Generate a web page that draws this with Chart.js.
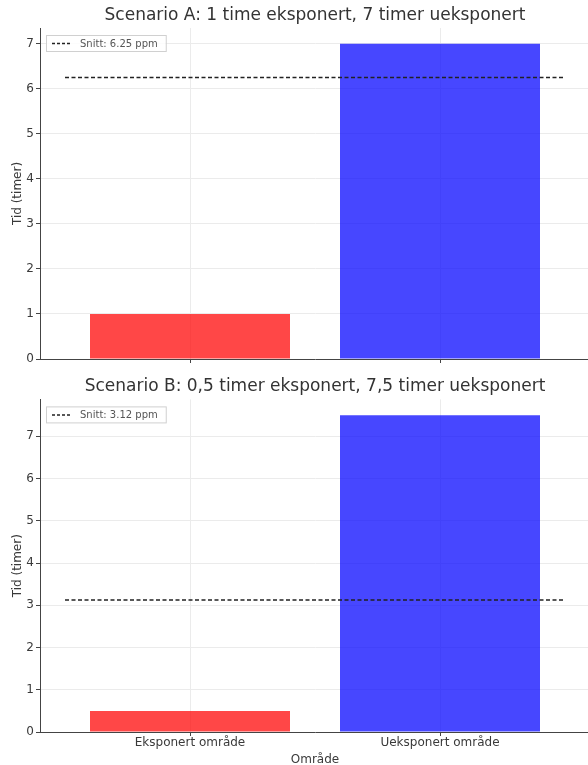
<!DOCTYPE html>
<html>
<head>
<meta charset="utf-8">
<script src="https://cdn.jsdelivr.net/npm/chart.js@4/dist/chart.umd.min.js"></script>
<style>
  body { margin: 0; overflow: hidden; background: #fff; }
  canvas { display: block; }
</style>
</head>
<body>
<canvas id="chartA" width="600" height="372"></canvas>
<canvas id="chartB" width="600" height="400"></canvas>
<script>
const areas = ["Eksponert område", "Ueksponert område"];
const hoursA = [1, 7];
const hoursB = [0.5, 7.5];
const averageA = 6.25;
const averageB = 3.125;
const titleA = "Scenario A: 1 time eksponert, 7 timer ueksponert";
const titleB = "Scenario B: 0,5 timer eksponert, 7,5 timer ueksponert";
const legendA = "Snitt: 6.25 ppm";
const legendB = "Snitt: 3.12 ppm";
const yTicks = [0, 1, 2, 3, 4, 5, 6, 7];
const barColors = ["rgba(255,0,0,0.72)", "rgba(0,0,255,0.72)"];

const FONT = "'DejaVu Sans', sans-serif";
const SPINE = "#444";
const GRID = "#ebebeb";
const TEXT = "#3a3a3a";

// legend box drawn inside the plot, top-left like matplotlib
const boxLegend = {
  id: "boxLegend",
  afterDraw(chart, args, opts) {
    const { ctx, chartArea } = chart;
    const x = chartArea.left + 6, y = chartArea.top + 7;
    ctx.save();
    ctx.font = "10px " + FONT;
    const w = ctx.measureText(opts.text).width + 42, h = 16;
    ctx.fillStyle = "rgba(255,255,255,0.85)";
    ctx.strokeStyle = "#d0d0d0";
    ctx.lineWidth = 1;
    ctx.fillRect(x, y, w, h);
    ctx.strokeRect(x + 0.5, y + 0.5, w, h);
    ctx.strokeStyle = "#222";
    ctx.lineWidth = 1.5;
    ctx.setLineDash([3, 2]);
    ctx.beginPath();
    ctx.moveTo(x + 6, y + h / 2 + 0.5);
    ctx.lineTo(x + 26, y + h / 2 + 0.5);
    ctx.stroke();
    ctx.setLineDash([]);
    ctx.fillStyle = "#555";
    ctx.textBaseline = "middle";
    ctx.fillText(opts.text, x + 34, y + h / 2 + 1);
    ctx.restore();
  }
};

function makeChart(id, hours, average, title, legendText, bottom) {
  const bars = areas.map((a, i) => ({ x: i, y: hours[i] }));
  const avgLine = [{ x: -0.5, y: average }, { x: areas.length - 0.5, y: average }];
  const yMax = Math.max(...hours) * 1.05;

  return new Chart(document.getElementById(id), {
    type: "bar",
    data: {
      datasets: [
        {
          type: "bar",
          data: bars,
          backgroundColor: barColors,
          borderWidth: 0,
          categoryPercentage: 1,
          barPercentage: 0.8,
          order: 2,
        },
        {
          type: "line",
          data: avgLine,
          borderColor: "#222",
          borderWidth: 1.5,
          borderDash: [4, 2.5],
          pointRadius: 0,
          fill: false,
          order: 1,
        },
      ],
    },
    options: {
      responsive: false,
      animation: false,
      layout: { padding: { left: 0, right: 10, top: 0, bottom: 0 } },
      plugins: {
        legend: { display: false },
        tooltip: { enabled: false },
        title: {
          display: true,
          fullSize: false,
          text: title,
          color: "#333",
          font: { family: FONT, size: 17, weight: "normal", lineHeight: 1.2 },
          padding: bottom ? { top: 4, bottom: 3 } : { top: 5, bottom: 2.6 },
        },
        boxLegend: { text: legendText },
      },
      scales: {
        x: {
          type: "linear",
          min: -0.6,
          max: 1.6,
          offset: false,
          afterBuildTicks: (s) => { s.ticks = areas.map((a, i) => ({ value: i })); },
          afterFit: (s) => { s.height = bottom ? 40 : 13; },
          grid: { offset: false, color: GRID, tickColor: SPINE, tickLength: 4 },
          border: { color: SPINE, width: 1 },
          ticks: {
            display: bottom,
            autoSkip: false,
            maxRotation: 0,
            padding: 0,
            color: TEXT,
            font: { family: FONT, size: 12 },
            callback: (v) => areas[v],
          },
          title: {
            display: bottom,
            text: "Område",
            color: TEXT,
            font: { family: FONT, size: 12 },
            padding: { top: 5, bottom: 5 },
          },
        },
        y: {
          min: 0,
          max: yMax,
          afterBuildTicks: (s) => { s.ticks = yTicks.map((v) => ({ value: v })); },
          afterFit: (s) => { s.width = 40; },
          grid: { color: GRID, tickColor: SPINE, tickLength: 4 },
          border: { color: SPINE, width: 1 },
          ticks: {
            padding: 2,
            color: TEXT,
            font: { family: FONT, size: 12 },
          },
          title: {
            display: true,
            text: "Tid (timer)",
            color: TEXT,
            font: { family: FONT, size: 12 },
            padding: { top: 11, bottom: 11 },
          },
        },
      },
    },
    plugins: [boxLegend],
  });
}

makeChart("chartA", hoursA, averageA, titleA, legendA, false);
makeChart("chartB", hoursB, averageB, titleB, legendB, true);
</script>
</body>
</html>
